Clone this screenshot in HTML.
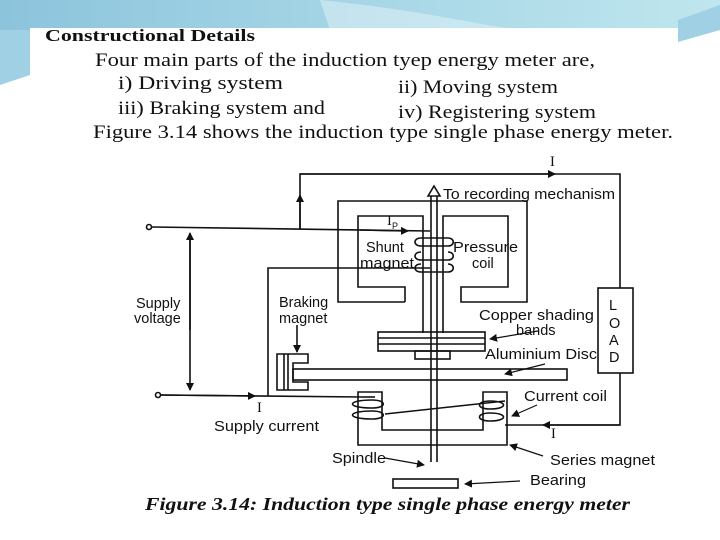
<!DOCTYPE html>
<html><head><meta charset="utf-8"><style>
html,body{margin:0;padding:0;background:#fff}
svg{display:block}
.s{font-family:"Liberation Sans",sans-serif;font-size:14.5px;fill:#111}
.r{font-family:"Liberation Serif",serif;fill:#111}
</style></head><body>
<svg width="720" height="540" viewBox="0 0 720 540" xmlns="http://www.w3.org/2000/svg">
<defs>
<linearGradient id="g" x1="0" x2="1"><stop offset="0" stop-color="#8cc4dc"/><stop offset="0.5" stop-color="#a6d6e6"/><stop offset="1" stop-color="#bfe6ee"/></linearGradient>
<marker id="a" markerWidth="8" markerHeight="8" refX="7" refY="4" orient="auto" markerUnits="userSpaceOnUse"><path d="M0,0 L8,4 L0,8 z" fill="#111"/></marker>
</defs>
<path d="M0,0 H720 V20 C690,30 670,40 678,30 L0,30 Z" fill="url(#g)"/>
<path d="M0,30 L30,30 L30,75 L0,85 Z" fill="#9fd0e4"/>
<path d="M320,0 C420,10 480,25 520,30 L330,30 Z" fill="#ffffff" opacity="0.35"/>
<path d="M678,20 L720,5 L720,30 L678,42 Z" fill="#9fd0e4"/>
<rect x="30" y="28" width="648" height="490" fill="#fff"/>
<g class="r">
<text x="45" y="41" font-size="17" font-weight="bold" textLength="210" lengthAdjust="spacingAndGlyphs">Constructional Details</text>
<text x="95" y="66" font-size="18.5" textLength="500" lengthAdjust="spacingAndGlyphs">Four main parts of the induction tyep energy meter are,</text>
<text x="118" y="89" font-size="18.5" textLength="165" lengthAdjust="spacingAndGlyphs">i)  Driving system</text>
<text x="398" y="93" font-size="18.5" textLength="160" lengthAdjust="spacingAndGlyphs">ii) Moving system</text>
<text x="118" y="114" font-size="18.5" textLength="207" lengthAdjust="spacingAndGlyphs">iii) Braking system and</text>
<text x="398" y="118" font-size="18.5" textLength="198" lengthAdjust="spacingAndGlyphs">iv) Registering system</text>
<text x="93" y="138" font-size="18.5" textLength="580" lengthAdjust="spacingAndGlyphs">Figure 3.14 shows the induction type single phase energy meter.</text>
<text x="145" y="510" font-size="18" font-weight="bold" font-style="italic" textLength="485" lengthAdjust="spacingAndGlyphs">Figure 3.14: Induction type single phase energy meter</text>
</g>
<g stroke="#111" stroke-width="1.6" fill="none">
<path d="M300,229 V174 H620 V288" />
<line x1="300" y1="174" x2="555" y2="174" marker-end="url(#a)"/>
<line x1="300" y1="229" x2="300" y2="195" marker-end="url(#a)"/>
<circle cx="149" cy="227" r="2.5"/>
<path d="M152,227 L430,231"/>
<line x1="360" y1="230" x2="408" y2="231" marker-end="url(#a)"/>
<circle cx="158" cy="395" r="2.5"/>
<path d="M161,395 L362,397"/>
<line x1="161" y1="395" x2="255" y2="396" marker-end="url(#a)"/>
<line x1="190" y1="240" x2="190" y2="390" marker-end="url(#a)"/>
<line x1="190" y1="330" x2="190" y2="233" marker-end="url(#a)"/>
<path d="M268,396 V268 H430"/>
<rect x="598" y="288" width="35" height="85"/>
<path d="M620,373 V425 H505"/>
<line x1="620" y1="425" x2="543" y2="425" marker-end="url(#a)"/>
<path d="M405,302 H338 V201 H527 V302 H461 V287 H508 V216 H443 V333"/>
<path d="M405,302 V287 H358 V216 H423 V333"/>
<path d="M431,196 V462 M437,196 V462"/>
<path d="M428,196 L434,186 L440,196 Z"/>
<path d="M421,238 C413,238 413,246 421,246 H448 C455,246 455,238 448,238 Z M421,252 C413,252 413,260 421,260 H448 C455,260 455,252 448,252 M421,264 C413,264 413,272 421,272 H448 C455,272 455,264 448,264"/>
<rect x="378" y="332" width="107" height="19"/>
<line x1="378" y1="338" x2="485" y2="338"/>
<line x1="378" y1="344" x2="485" y2="344"/>
<rect x="415" y="351" width="35" height="8"/>
<rect x="293" y="369" width="274" height="11"/>
<path d="M308,360 V354 H277 V390 H308 V382 H293 V363 H308 Z"/>
<line x1="284" y1="354" x2="284" y2="390"/>
<line x1="288" y1="354" x2="288" y2="390"/>
<line x1="297" y1="325" x2="297" y2="352" marker-end="url(#a)"/>
<path d="M358,392 H382 V430 H483 V392 H507 V445 H358 Z"/>
<path d="M362,397 H375"/>
<path d="M372,400 C346,400 346,408 372,408 C387,408 387,400 372,400 M372,411 C346,411 346,419 372,419 C387,419 387,411 372,411"/>
<path d="M490,401 C476,401 476,409 490,409 C508,409 508,401 490,401 M490,413 C476,413 476,421 490,421 C508,421 508,413 490,413"/>
<path d="M385,414 L505,401"/>
<rect x="393" y="479" width="65" height="9"/>
<line x1="538" y1="331" x2="490" y2="339" stroke-width="1.2" marker-end="url(#a)"/>
<line x1="545" y1="364" x2="505" y2="374" stroke-width="1.2" marker-end="url(#a)"/>
<line x1="537" y1="405" x2="512" y2="416" stroke-width="1.2" marker-end="url(#a)"/>
<line x1="543" y1="456" x2="510" y2="445" stroke-width="1.2" marker-end="url(#a)"/>
<line x1="385" y1="458" x2="424" y2="465" stroke-width="1.2" marker-end="url(#a)"/>
<line x1="520" y1="481" x2="465" y2="484" stroke-width="1.2" marker-end="url(#a)"/>
</g>
<g class="s">
<text x="550" y="166" font-family="Liberation Serif">I</text>
<text x="443" y="199" textLength="172" lengthAdjust="spacingAndGlyphs">To recording mechanism</text>
<text x="387" y="225" font-family="Liberation Serif">I</text><text x="392" y="229" font-size="9">P</text>
<text x="366" y="252">Shunt</text>
<text x="360" y="268" textLength="54" lengthAdjust="spacingAndGlyphs">magnet</text>
<text x="453" y="252" textLength="65" lengthAdjust="spacingAndGlyphs">Pressure</text>
<text x="472" y="268">coil</text>
<text x="136" y="308">Supply</text>
<text x="134" y="323">voltage</text>
<text x="279" y="307">Braking</text>
<text x="279" y="323">magnet</text>
<text x="479" y="320" textLength="115" lengthAdjust="spacingAndGlyphs">Copper shading</text>
<text x="516" y="335">bands</text>
<text x="485" y="359" textLength="112" lengthAdjust="spacingAndGlyphs">Aluminium Disc</text>
<text x="524" y="401" textLength="83" lengthAdjust="spacingAndGlyphs">Current coil</text>
<text x="257" y="412" font-family="Liberation Serif">I</text>
<text x="214" y="431" textLength="105" lengthAdjust="spacingAndGlyphs">Supply current</text>
<text x="551" y="438" font-family="Liberation Serif">I</text>
<text x="332" y="463" textLength="54" lengthAdjust="spacingAndGlyphs">Spindle</text>
<text x="550" y="465" textLength="105" lengthAdjust="spacingAndGlyphs">Series magnet</text>
<text x="530" y="485" textLength="56" lengthAdjust="spacingAndGlyphs">Bearing</text>
<text x="609" y="310">L</text>
<text x="609" y="328">O</text>
<text x="609" y="345">A</text>
<text x="609" y="362">D</text>
</g>
</svg>
</body></html>
